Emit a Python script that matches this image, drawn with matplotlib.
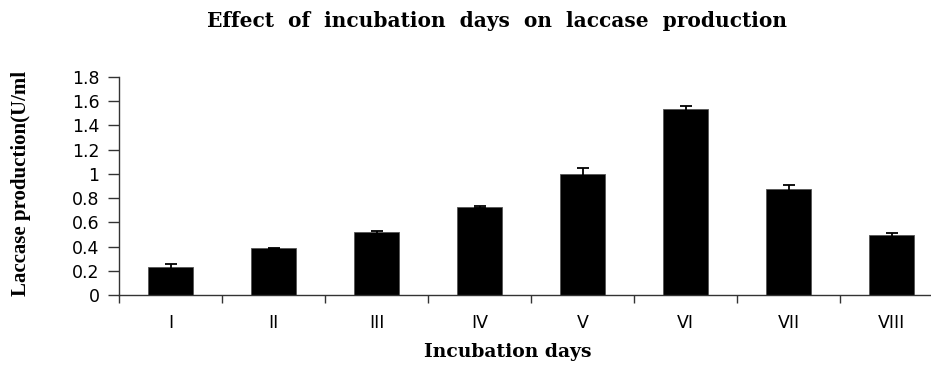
import numpy as np
import matplotlib.pyplot as plt
from matplotlib.ticker import FixedLocator, NullFormatter

# Laccase activity (U/ml) per incubation day, with standard error
days = ['I', 'II', 'III', 'IV', 'V', 'VI', 'VII', 'VIII']
laccase = [0.234, 0.386, 0.518, 0.727, 0.997, 1.537, 0.879, 0.496]
errors = [0.022, 0.004, 0.013, 0.010, 0.055, 0.020, 0.033, 0.020]
yticks = [0, 0.2, 0.4, 0.6, 0.8, 1, 1.2, 1.4, 1.6, 1.8]
ytick_labels = ['0', '0.2', '0.4', '0.6', '0.8', '1', '1.2', '1.4', '1.6', '1.8']

W, H = 931, 365
fig = plt.figure(figsize=(W / 100, H / 100), dpi=100)
# plot area: left edge at x=119px, zero line at y=295px, 1.8 at y=77px, 103px per category
ax = fig.add_axes([119 / W, (H - 295) / H, 824 / W, 218 / H])

x = np.arange(len(days))
ax.bar(x, laccase, width=0.43, color='black', edgecolor='#555555', linewidth=0.6,
       yerr=errors, capsize=4.5, error_kw=dict(ecolor='black', elinewidth=1.3, capthick=1.3))

ax.set_xlim(-0.5, len(days) - 0.5)
ax.set_ylim(0, 1.8)
ax.set_yticks(yticks)
ax.set_yticklabels(ytick_labels)

ax.set_xticks(x)
ax.set_xticklabels(days)
ax.xaxis.set_minor_locator(FixedLocator(np.arange(-0.5, len(days), 1.0)))
ax.xaxis.set_minor_formatter(NullFormatter())
ax.tick_params(axis='x', which='major', length=0, pad=14)
ax.tick_params(axis='x', which='minor', length=6, width=1, color='#333333', direction='out')
ax.tick_params(axis='y', length=8, width=1, color='#333333', direction='out', pad=6)

for lab in ax.get_xticklabels() + ax.get_yticklabels():
    lab.set_fontfamily('DejaVu Sans')
    lab.set_fontsize(12.5)

for side in ['top', 'right']:
    ax.spines[side].set_visible(False)
for side in ['left', 'bottom']:
    ax.spines[side].set_color('#333333')
    ax.spines[side].set_linewidth(1)

fig.text(497 / W, 1 - 21 / H, 'Effect  of  incubation  days  on  laccase  production',
         ha='center', va='center', fontfamily='DejaVu Serif', fontweight='bold', fontsize=14.5)
fig.text(508 / W, 1 - 352 / H, 'Incubation days',
         ha='center', va='center', fontfamily='DejaVu Serif', fontweight='bold', fontsize=13.5)
fig.text(21 / W, 1 - 183 / H, 'Laccase production(U/ml',
         ha='center', va='center', rotation=90, fontfamily='Liberation Serif',
         fontweight='bold', fontsize=15)

fig.savefig('out.png', dpi=100)
